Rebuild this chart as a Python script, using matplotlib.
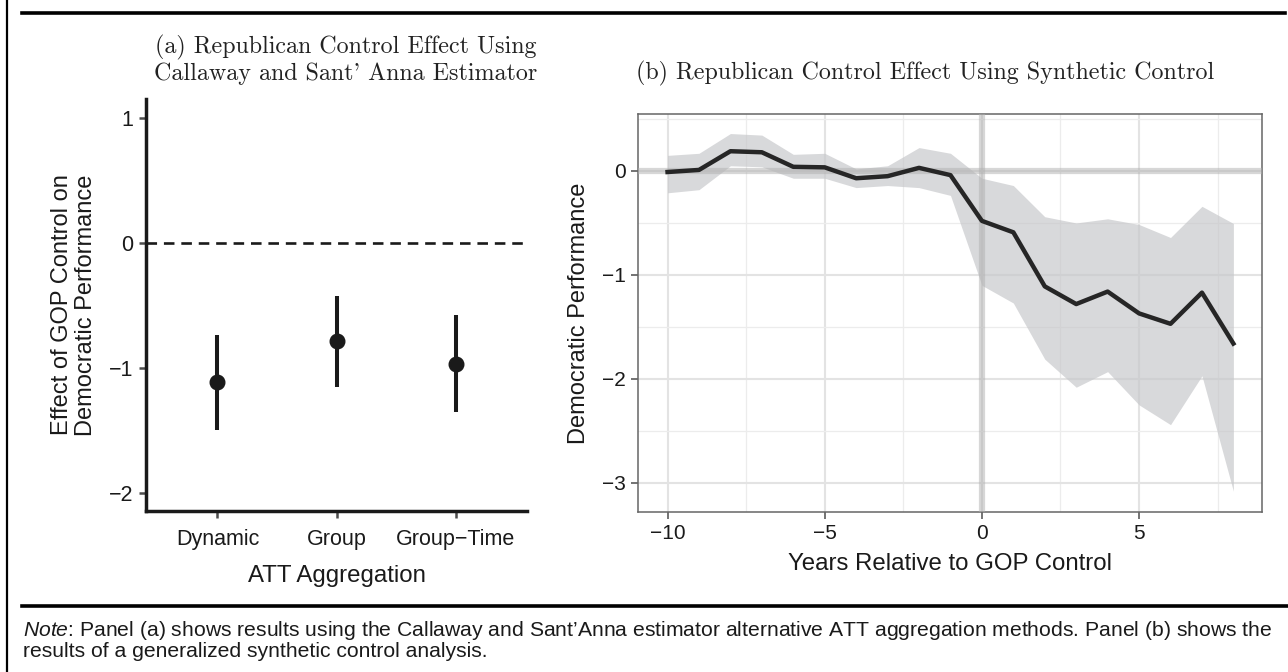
import matplotlib
matplotlib.use("Agg")
import matplotlib.pyplot as plt
from matplotlib.lines import Line2D
from matplotlib.ticker import MultipleLocator

# panel (a): Callaway & Sant'Anna aggregations
agg_labels = ["Dynamic", "Group", "Group\u2212Time"]
agg_est = [-1.11, -0.785, -0.963]
agg_lo = [-1.49, -1.148, -1.349]
agg_hi = [-0.735, -0.424, -0.578]

# panel (b): generalized synthetic control
years = [-10, -9, -8, -7, -6, -5, -4, -3, -2, -1, 0, 1, 2, 3, 4, 5, 6, 7, 8]
att = [-0.01, 0.01, 0.19, 0.18, 0.04, 0.035, -0.07, -0.05, 0.03, -0.04,
       -0.48, -0.59, -1.11, -1.28, -1.16, -1.37, -1.47, -1.17, -1.66]
ci_hi = [0.15, 0.17, 0.36, 0.345, 0.16, 0.17, 0.02, 0.05, 0.225, 0.17,
         -0.07, -0.14, -0.44, -0.50, -0.46, -0.515, -0.64, -0.34, -0.505]
ci_lo = [-0.21, -0.18, 0.05, 0.04, -0.07, -0.07, -0.16, -0.14, -0.16, -0.235,
         -1.10, -1.27, -1.81, -2.08, -1.93, -2.25, -2.44, -1.97, -3.08]

title_a = "(a) Republican Control Effect Using\nCallaway and Sant' Anna Estimator"
title_b = "(b) Republican Control Effect Using Synthetic Control"
note_text = (r"$\it{Note}$: Panel (a) shows results using the Callaway and Sant"
             "\u2019Anna estimator alternative ATT aggregation methods. Panel (b) shows the\n"
             "results of a generalized synthetic control analysis.")

plt.rcParams["font.family"] = ["Liberation Sans", "DejaVu Sans"]
plt.rcParams["mathtext.fontset"] = "custom"
plt.rcParams["mathtext.it"] = "Liberation Sans:italic"
plt.rcParams["mathtext.rm"] = "Liberation Sans"
plt.rcParams["axes.unicode_minus"] = True

W, H = 1288, 672
fig = plt.figure(figsize=(W / 100, H / 100), dpi=100)


def box(l, t, r, b):
    return [l / W, 1 - b / H, (r - l) / W, (b - t) / H]


INK = "#1a1a1a"

# ---- frame of the page crop
fig.add_artist(Line2D([7 / W, 7 / W], [0, 1], color="black", lw=1.6, transform=fig.transFigure))
fig.add_artist(Line2D([22 / W, 1285 / W], [1 - 13 / H] * 2, color="black", lw=2.6, transform=fig.transFigure))
fig.add_artist(Line2D([22 / W, 1.0], [1 - 606 / H] * 2, color="black", lw=2.6, transform=fig.transFigure))

# ---- panel (a)
ax1 = fig.add_axes(box(146, 99, 527, 511))
xs = range(1, len(agg_labels) + 1)
for x, lo, hi in zip(xs, agg_lo, agg_hi):
    ax1.plot([x, x], [lo, hi], color=INK, lw=2.9, solid_capstyle="butt")
ax1.plot(list(xs), agg_est, "o", color=INK, ms=10.5)
ax1.axhline(0, color=INK, lw=1.9, ls=(0, (4, 2.6)))
ax1.set_xlim(0.4, 3.6)
ax1.set_ylim(-2.14, 1.15)
ax1.set_xticks(list(xs))
ax1.set_xticklabels(agg_labels)
ax1.set_yticks([1, 0, -1, -2])
for s in ["top", "right"]:
    ax1.spines[s].set_visible(False)
for s in ["left", "bottom"]:
    ax1.spines[s].set_linewidth(2.5)
    ax1.spines[s].set_color(INK)
ax1.tick_params(axis="both", colors="#4d4d4d", width=1.8, length=5, labelsize=15.5, labelcolor=INK, pad=4)
ax1.tick_params(axis="x", pad=8)
ax1.set_xlabel("ATT Aggregation", fontsize=17.3, color=INK, labelpad=11)
ax1.set_ylabel("Effect of GOP Control on\nDemocratic Performance", fontsize=17, color=INK,
               labelpad=9, linespacing=1.1)
fig.text(346 / W, 1 - 60 / H, title_a, ha="center", va="center", family="cmr10",
         fontsize=17.3, linespacing=1.15, color="#222222")

# ---- panel (b)
ax2 = fig.add_axes(box(638, 114, 1262, 512))
ax2.set_xlim(-10.94, 8.91)
ax2.set_ylim(-3.28, 0.548)
ax2.xaxis.set_major_locator(MultipleLocator(5))
ax2.xaxis.set_minor_locator(MultipleLocator(2.5))
ax2.yaxis.set_major_locator(MultipleLocator(1))
ax2.yaxis.set_minor_locator(MultipleLocator(0.5))
ax2.grid(which="major", color="#e3e3e3", lw=1.5)
ax2.grid(which="minor", color="#ececec", lw=0.9)
ax2.set_axisbelow(True)
ax2.fill_between(years, ci_lo, ci_hi, color="#c6c7ca", alpha=0.68, lw=0, zorder=2)
ax2.axhline(0, color="#b0b0b0", lw=4.5, alpha=0.5, zorder=3)
ax2.axvline(0, color="#b0b0b0", lw=4.5, alpha=0.5, zorder=3)
ax2.plot(years, att, color="#262626", lw=3.2, zorder=4)
for s in ax2.spines.values():
    s.set_color("#666666")
    s.set_linewidth(1.1)
ax2.tick_params(axis="both", which="major", colors="#4d4d4d", width=1.1, length=5,
                labelsize=15, labelcolor=INK)
ax2.tick_params(axis="both", which="minor", length=0)
ax2.set_xlabel("Years Relative to GOP Control", fontsize=17.3, color=INK, labelpad=7)
ax2.set_ylabel("Democratic Performance", fontsize=17, color=INK, labelpad=9)
fig.text(925 / W, 1 - 73 / H, title_b, ha="center", va="center", family="cmr10",
         fontsize=17.3, color="#222222")

# ---- note
fig.text(23 / W, 1 - 640 / H, note_text, ha="left", va="center", fontsize=15.2,
         linespacing=1.0, color=INK)

fig.savefig("out.png", dpi=100)
